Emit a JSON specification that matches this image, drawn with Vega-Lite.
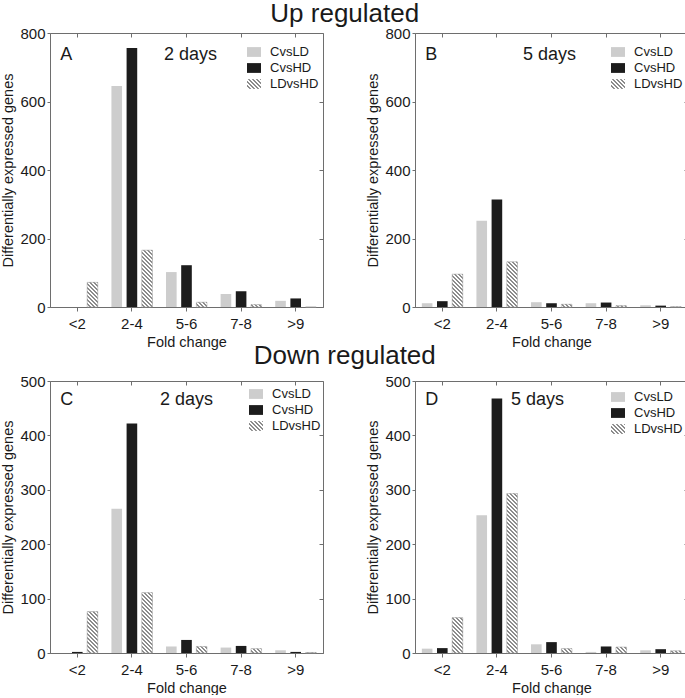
{
"$schema": "https://vega.github.io/schema/vega-lite/v6.json",
"padding": {"left": 0, "top": 0, "right": 0, "bottom": 0},
"params": [{"name": "hatch", "value": [
{"offset":0,"color":"#fff"},{"offset":0.01,"color":"#fff"},{"offset":0.01,"color":"#8c8c8c"},{"offset":0.02,"color":"#8c8c8c"},
{"offset":0.02,"color":"#fff"},{"offset":0.03,"color":"#fff"},{"offset":0.03,"color":"#8c8c8c"},{"offset":0.04,"color":"#8c8c8c"},
{"offset":0.04,"color":"#fff"},{"offset":0.05,"color":"#fff"},{"offset":0.05,"color":"#8c8c8c"},{"offset":0.06,"color":"#8c8c8c"},
{"offset":0.06,"color":"#fff"},{"offset":0.07,"color":"#fff"},{"offset":0.07,"color":"#8c8c8c"},{"offset":0.08,"color":"#8c8c8c"},
{"offset":0.08,"color":"#fff"},{"offset":0.09,"color":"#fff"},{"offset":0.09,"color":"#8c8c8c"},{"offset":0.10,"color":"#8c8c8c"},
{"offset":0.10,"color":"#fff"},{"offset":0.11,"color":"#fff"},{"offset":0.11,"color":"#8c8c8c"},{"offset":0.12,"color":"#8c8c8c"},
{"offset":0.12,"color":"#fff"},{"offset":0.13,"color":"#fff"},{"offset":0.13,"color":"#8c8c8c"},{"offset":0.14,"color":"#8c8c8c"},
{"offset":0.14,"color":"#fff"},{"offset":0.15,"color":"#fff"},{"offset":0.15,"color":"#8c8c8c"},{"offset":0.16,"color":"#8c8c8c"},
{"offset":0.16,"color":"#fff"},{"offset":0.17,"color":"#fff"},{"offset":0.17,"color":"#8c8c8c"},{"offset":0.18,"color":"#8c8c8c"},
{"offset":0.18,"color":"#fff"},{"offset":0.19,"color":"#fff"},{"offset":0.19,"color":"#8c8c8c"},{"offset":0.20,"color":"#8c8c8c"},
{"offset":0.20,"color":"#fff"},{"offset":0.21,"color":"#fff"},{"offset":0.21,"color":"#8c8c8c"},{"offset":0.22,"color":"#8c8c8c"},
{"offset":0.22,"color":"#fff"},{"offset":0.23,"color":"#fff"},{"offset":0.23,"color":"#8c8c8c"},{"offset":0.24,"color":"#8c8c8c"},
{"offset":0.24,"color":"#fff"},{"offset":0.25,"color":"#fff"},{"offset":0.25,"color":"#8c8c8c"},{"offset":0.26,"color":"#8c8c8c"},
{"offset":0.26,"color":"#fff"},{"offset":0.27,"color":"#fff"},{"offset":0.27,"color":"#8c8c8c"},{"offset":0.28,"color":"#8c8c8c"},
{"offset":0.28,"color":"#fff"},{"offset":0.29,"color":"#fff"},{"offset":0.29,"color":"#8c8c8c"},{"offset":0.30,"color":"#8c8c8c"},
{"offset":0.30,"color":"#fff"},{"offset":0.31,"color":"#fff"},{"offset":0.31,"color":"#8c8c8c"},{"offset":0.32,"color":"#8c8c8c"},
{"offset":0.32,"color":"#fff"},{"offset":0.33,"color":"#fff"},{"offset":0.33,"color":"#8c8c8c"},{"offset":0.34,"color":"#8c8c8c"},
{"offset":0.34,"color":"#fff"},{"offset":0.35,"color":"#fff"},{"offset":0.35,"color":"#8c8c8c"},{"offset":0.36,"color":"#8c8c8c"},
{"offset":0.36,"color":"#fff"},{"offset":0.37,"color":"#fff"},{"offset":0.37,"color":"#8c8c8c"},{"offset":0.38,"color":"#8c8c8c"},
{"offset":0.38,"color":"#fff"},{"offset":0.39,"color":"#fff"},{"offset":0.39,"color":"#8c8c8c"},{"offset":0.40,"color":"#8c8c8c"},
{"offset":0.40,"color":"#fff"},{"offset":0.41,"color":"#fff"},{"offset":0.41,"color":"#8c8c8c"},{"offset":0.42,"color":"#8c8c8c"},
{"offset":0.42,"color":"#fff"},{"offset":0.43,"color":"#fff"},{"offset":0.43,"color":"#8c8c8c"},{"offset":0.44,"color":"#8c8c8c"},
{"offset":0.44,"color":"#fff"},{"offset":0.45,"color":"#fff"},{"offset":0.45,"color":"#8c8c8c"},{"offset":0.46,"color":"#8c8c8c"},
{"offset":0.46,"color":"#fff"},{"offset":0.47,"color":"#fff"},{"offset":0.47,"color":"#8c8c8c"},{"offset":0.48,"color":"#8c8c8c"},
{"offset":0.48,"color":"#fff"},{"offset":0.49,"color":"#fff"},{"offset":0.49,"color":"#8c8c8c"},{"offset":0.50,"color":"#8c8c8c"},
{"offset":0.50,"color":"#fff"},{"offset":0.51,"color":"#fff"},{"offset":0.51,"color":"#8c8c8c"},{"offset":0.52,"color":"#8c8c8c"},
{"offset":0.52,"color":"#fff"},{"offset":0.53,"color":"#fff"},{"offset":0.53,"color":"#8c8c8c"},{"offset":0.54,"color":"#8c8c8c"},
{"offset":0.54,"color":"#fff"},{"offset":0.55,"color":"#fff"},{"offset":0.55,"color":"#8c8c8c"},{"offset":0.56,"color":"#8c8c8c"},
{"offset":0.56,"color":"#fff"},{"offset":0.57,"color":"#fff"},{"offset":0.57,"color":"#8c8c8c"},{"offset":0.58,"color":"#8c8c8c"},
{"offset":0.58,"color":"#fff"},{"offset":0.59,"color":"#fff"},{"offset":0.59,"color":"#8c8c8c"},{"offset":0.60,"color":"#8c8c8c"},
{"offset":0.60,"color":"#fff"},{"offset":0.61,"color":"#fff"},{"offset":0.61,"color":"#8c8c8c"},{"offset":0.62,"color":"#8c8c8c"},
{"offset":0.62,"color":"#fff"},{"offset":0.63,"color":"#fff"},{"offset":0.63,"color":"#8c8c8c"},{"offset":0.64,"color":"#8c8c8c"},
{"offset":0.64,"color":"#fff"},{"offset":0.65,"color":"#fff"},{"offset":0.65,"color":"#8c8c8c"},{"offset":0.66,"color":"#8c8c8c"},
{"offset":0.66,"color":"#fff"},{"offset":0.67,"color":"#fff"},{"offset":0.67,"color":"#8c8c8c"},{"offset":0.68,"color":"#8c8c8c"},
{"offset":0.68,"color":"#fff"},{"offset":0.69,"color":"#fff"},{"offset":0.69,"color":"#8c8c8c"},{"offset":0.70,"color":"#8c8c8c"},
{"offset":0.70,"color":"#fff"},{"offset":0.71,"color":"#fff"},{"offset":0.71,"color":"#8c8c8c"},{"offset":0.72,"color":"#8c8c8c"},
{"offset":0.72,"color":"#fff"},{"offset":0.73,"color":"#fff"},{"offset":0.73,"color":"#8c8c8c"},{"offset":0.74,"color":"#8c8c8c"},
{"offset":0.74,"color":"#fff"},{"offset":0.75,"color":"#fff"},{"offset":0.75,"color":"#8c8c8c"},{"offset":0.76,"color":"#8c8c8c"},
{"offset":0.76,"color":"#fff"},{"offset":0.77,"color":"#fff"},{"offset":0.77,"color":"#8c8c8c"},{"offset":0.78,"color":"#8c8c8c"},
{"offset":0.78,"color":"#fff"},{"offset":0.79,"color":"#fff"},{"offset":0.79,"color":"#8c8c8c"},{"offset":0.80,"color":"#8c8c8c"},
{"offset":0.80,"color":"#fff"},{"offset":0.81,"color":"#fff"},{"offset":0.81,"color":"#8c8c8c"},{"offset":0.82,"color":"#8c8c8c"},
{"offset":0.82,"color":"#fff"},{"offset":0.83,"color":"#fff"},{"offset":0.83,"color":"#8c8c8c"},{"offset":0.84,"color":"#8c8c8c"},
{"offset":0.84,"color":"#fff"},{"offset":0.85,"color":"#fff"},{"offset":0.85,"color":"#8c8c8c"},{"offset":0.86,"color":"#8c8c8c"},
{"offset":0.86,"color":"#fff"},{"offset":0.87,"color":"#fff"},{"offset":0.87,"color":"#8c8c8c"},{"offset":0.88,"color":"#8c8c8c"},
{"offset":0.88,"color":"#fff"},{"offset":0.89,"color":"#fff"},{"offset":0.89,"color":"#8c8c8c"},{"offset":0.90,"color":"#8c8c8c"},
{"offset":0.90,"color":"#fff"},{"offset":0.91,"color":"#fff"},{"offset":0.91,"color":"#8c8c8c"},{"offset":0.92,"color":"#8c8c8c"},
{"offset":0.92,"color":"#fff"},{"offset":0.93,"color":"#fff"},{"offset":0.93,"color":"#8c8c8c"},{"offset":0.94,"color":"#8c8c8c"},
{"offset":0.94,"color":"#fff"},{"offset":0.95,"color":"#fff"},{"offset":0.95,"color":"#8c8c8c"},{"offset":0.96,"color":"#8c8c8c"},
{"offset":0.96,"color":"#fff"},{"offset":0.97,"color":"#fff"},{"offset":0.97,"color":"#8c8c8c"},{"offset":0.98,"color":"#8c8c8c"},
{"offset":0.98,"color":"#fff"},{"offset":0.99,"color":"#fff"},{"offset":0.99,"color":"#8c8c8c"},{"offset":1,"color":"#8c8c8c"}
]}],
"datasets": {
"bars": [
{"panel":"A","cat":"<2","cmp":"CvsLD","n":0},{"panel":"A","cat":"<2","cmp":"CvsHD","n":0},{"panel":"A","cat":"<2","cmp":"LDvsHD","n":72},
{"panel":"A","cat":"2-4","cmp":"CvsLD","n":645},{"panel":"A","cat":"2-4","cmp":"CvsHD","n":756},{"panel":"A","cat":"2-4","cmp":"LDvsHD","n":166},
{"panel":"A","cat":"5-6","cmp":"CvsLD","n":102},{"panel":"A","cat":"5-6","cmp":"CvsHD","n":122},{"panel":"A","cat":"5-6","cmp":"LDvsHD","n":14},
{"panel":"A","cat":"7-8","cmp":"CvsLD","n":38},{"panel":"A","cat":"7-8","cmp":"CvsHD","n":46},{"panel":"A","cat":"7-8","cmp":"LDvsHD","n":7},
{"panel":"A","cat":">9","cmp":"CvsLD","n":18},{"panel":"A","cat":">9","cmp":"CvsHD","n":25},{"panel":"A","cat":">9","cmp":"LDvsHD","n":0},
{"panel":"B","cat":"<2","cmp":"CvsLD","n":11},{"panel":"B","cat":"<2","cmp":"CvsHD","n":17},{"panel":"B","cat":"<2","cmp":"LDvsHD","n":96},
{"panel":"B","cat":"2-4","cmp":"CvsLD","n":252},{"panel":"B","cat":"2-4","cmp":"CvsHD","n":314},{"panel":"B","cat":"2-4","cmp":"LDvsHD","n":132},
{"panel":"B","cat":"5-6","cmp":"CvsLD","n":14},{"panel":"B","cat":"5-6","cmp":"CvsHD","n":11},{"panel":"B","cat":"5-6","cmp":"LDvsHD","n":8},
{"panel":"B","cat":"7-8","cmp":"CvsLD","n":11},{"panel":"B","cat":"7-8","cmp":"CvsHD","n":13},{"panel":"B","cat":"7-8","cmp":"LDvsHD","n":4},
{"panel":"B","cat":">9","cmp":"CvsLD","n":5},{"panel":"B","cat":">9","cmp":"CvsHD","n":4},{"panel":"B","cat":">9","cmp":"LDvsHD","n":1},
{"panel":"C","cat":"<2","cmp":"CvsLD","n":0},{"panel":"C","cat":"<2","cmp":"CvsHD","n":2},{"panel":"C","cat":"<2","cmp":"LDvsHD","n":76},
{"panel":"C","cat":"2-4","cmp":"CvsLD","n":265},{"panel":"C","cat":"2-4","cmp":"CvsHD","n":422},{"panel":"C","cat":"2-4","cmp":"LDvsHD","n":111},
{"panel":"C","cat":"5-6","cmp":"CvsLD","n":12},{"panel":"C","cat":"5-6","cmp":"CvsHD","n":24},{"panel":"C","cat":"5-6","cmp":"LDvsHD","n":12},
{"panel":"C","cat":"7-8","cmp":"CvsLD","n":10},{"panel":"C","cat":"7-8","cmp":"CvsHD","n":13},{"panel":"C","cat":"7-8","cmp":"LDvsHD","n":8},
{"panel":"C","cat":">9","cmp":"CvsLD","n":5},{"panel":"C","cat":">9","cmp":"CvsHD","n":2},{"panel":"C","cat":">9","cmp":"LDvsHD","n":1},
{"panel":"D","cat":"<2","cmp":"CvsLD","n":8},{"panel":"D","cat":"<2","cmp":"CvsHD","n":9},{"panel":"D","cat":"<2","cmp":"LDvsHD","n":65},
{"panel":"D","cat":"2-4","cmp":"CvsLD","n":253},{"panel":"D","cat":"2-4","cmp":"CvsHD","n":468},{"panel":"D","cat":"2-4","cmp":"LDvsHD","n":293},
{"panel":"D","cat":"5-6","cmp":"CvsLD","n":16},{"panel":"D","cat":"5-6","cmp":"CvsHD","n":20},{"panel":"D","cat":"5-6","cmp":"LDvsHD","n":8},
{"panel":"D","cat":"7-8","cmp":"CvsLD","n":2},{"panel":"D","cat":"7-8","cmp":"CvsHD","n":12},{"panel":"D","cat":"7-8","cmp":"LDvsHD","n":11},
{"panel":"D","cat":">9","cmp":"CvsLD","n":5},{"panel":"D","cat":">9","cmp":"CvsHD","n":7},{"panel":"D","cat":">9","cmp":"LDvsHD","n":4}
],
"labels": [
{"panel":"A","days":"2 days"},{"panel":"B","days":"5 days"},{"panel":"C","days":"2 days"},{"panel":"D","days":"5 days"}
]
},
"vconcat": [
{
"title": {"text": "Up regulated", "offset": -1},
"spacing": 41,
"resolve": {"scale": {"fill": "independent"}, "legend": {"fill": "independent"}},
"hconcat": [
{
"width": 273, "height": 274,
"resolve": {"axis": {"x": "independent", "y": "independent"}},
"layer": [
{"data": {"name": "bars"}, "transform": [{"filter": "datum.panel=='A'"}],
 "mark": {"type": "bar"},
 "encoding": {
  "x": {"field": "cat", "type": "nominal", "scale": {"domain": ["<2","2-4","5-6","7-8",">9"], "paddingInner": 0.25, "paddingOuter": 0.125}, "axis": {"orient": "bottom", "title": "Fold change", "labelAngle": 0, "tickSize": 4, "labelPadding": 5, "bandPosition": 0.5}},
  "xOffset": {"field": "cmp", "type": "nominal", "scale": {"domain": ["CvsLD","CvsHD","LDvsHD"], "paddingInner": 0.3, "paddingOuter": 0}},
  "y": {"field": "n", "type": "quantitative", "scale": {"domain": [0, 800], "nice": false}, "axis": {"orient": "left", "values": [0,200,400,600,800], "title": "Differentially expressed genes", "tickSize": 3}},
  "fill": {"field": "cmp", "type": "nominal", "scale": {"domain": ["CvsLD","CvsHD","LDvsHD"], "range": ["#cdcdcd", "#1c1c1c", {"expr": "{gradient:'linear',x1:0,y1:1,x2:9.59,y2:-5.71,stops:hatch}"}]}, "legend": {"title": null, "orient": "none", "legendX": 197, "legendY": 12}}
 }},
{"data": {"name": "bars"}, "transform": [{"filter": "datum.panel=='A' && datum.cmp=='LDvsHD'"}],
 "mark": {"type": "bar", "stroke": "#a0a0a0", "strokeWidth": 0.5, "fill": {"expr": "{gradient:'linear',x1:0,y1:1,x2:200/(10.6*(1+pow(datum.n*0.3425/10.6,2))),y2:1-200/(10.6*(1+pow(datum.n*0.3425/10.6,2)))*datum.n*0.3425/10.6,stops:hatch}"}},
 "encoding": {
  "x": {"field": "cat", "type": "nominal", "scale": {"domain": ["<2","2-4","5-6","7-8",">9"]}, "axis": {"orient": "top", "title": null, "labels": false, "tickSize": -4, "domain": false, "bandPosition": 0.5}},
  "xOffset": {"field": "cmp", "type": "nominal", "scale": {"domain": ["CvsLD","CvsHD","LDvsHD"]}},
  "y": {"field": "n", "type": "quantitative", "scale": {"domain": [0, 800]}, "axis": {"orient": "right", "title": null, "labels": false, "values": [0,200,400,600,800], "tickSize": -4, "domain": false}}
 }},
{"data": {"name": "labels"}, "transform": [{"filter": "datum.panel=='A'"}],
 "mark": {"type": "text", "align": "left", "baseline": "alphabetic", "fontSize": 18, "dx": -17},
 "encoding": {"text": {"field": "panel"}, "x": {"datum": "<2", "type": "nominal", "scale": {"domain": ["<2","2-4","5-6","7-8",">9"]}, "axis": null}, "y": {"datum": 721, "type": "quantitative", "scale": {"domain": [0, 800]}, "axis": null}}},
{"data": {"name": "labels"}, "transform": [{"filter": "datum.panel=='A'"}],
 "mark": {"type": "text", "align": "left", "baseline": "alphabetic", "fontSize": 18, "dx": 32},
 "encoding": {"text": {"field": "days"}, "x": {"datum": "2-4", "type": "nominal", "scale": {"domain": ["<2","2-4","5-6","7-8",">9"]}, "axis": null}, "y": {"datum": 721, "type": "quantitative", "scale": {"domain": [0, 800]}, "axis": null}}}
]
},
{
"width": 273, "height": 274,
"resolve": {"axis": {"x": "independent", "y": "independent"}},
"layer": [
{"data": {"name": "bars"}, "transform": [{"filter": "datum.panel=='B'"}],
 "mark": {"type": "bar"},
 "encoding": {
  "x": {"field": "cat", "type": "nominal", "scale": {"domain": ["<2","2-4","5-6","7-8",">9"], "paddingInner": 0.25, "paddingOuter": 0.125}, "axis": {"orient": "bottom", "title": "Fold change", "labelAngle": 0, "tickSize": 4, "labelPadding": 5, "bandPosition": 0.5}},
  "xOffset": {"field": "cmp", "type": "nominal", "scale": {"domain": ["CvsLD","CvsHD","LDvsHD"], "paddingInner": 0.3, "paddingOuter": 0}},
  "y": {"field": "n", "type": "quantitative", "scale": {"domain": [0, 800], "nice": false}, "axis": {"orient": "left", "values": [0,200,400,600,800], "title": "Differentially expressed genes", "tickSize": 3}},
  "fill": {"field": "cmp", "type": "nominal", "scale": {"domain": ["CvsLD","CvsHD","LDvsHD"], "range": ["#cdcdcd", "#1c1c1c", {"expr": "{gradient:'linear',x1:0,y1:1,x2:9.59,y2:-5.71,stops:hatch}"}]}, "legend": {"title": null, "orient": "none", "legendX": 196, "legendY": 12}}
 }},
{"data": {"name": "bars"}, "transform": [{"filter": "datum.panel=='B' && datum.cmp=='LDvsHD'"}],
 "mark": {"type": "bar", "stroke": "#a0a0a0", "strokeWidth": 0.5, "fill": {"expr": "{gradient:'linear',x1:0,y1:1,x2:200/(10.6*(1+pow(datum.n*0.3425/10.6,2))),y2:1-200/(10.6*(1+pow(datum.n*0.3425/10.6,2)))*datum.n*0.3425/10.6,stops:hatch}"}},
 "encoding": {
  "x": {"field": "cat", "type": "nominal", "scale": {"domain": ["<2","2-4","5-6","7-8",">9"]}, "axis": {"orient": "top", "title": null, "labels": false, "tickSize": -4, "domain": false, "bandPosition": 0.5}},
  "xOffset": {"field": "cmp", "type": "nominal", "scale": {"domain": ["CvsLD","CvsHD","LDvsHD"]}},
  "y": {"field": "n", "type": "quantitative", "scale": {"domain": [0, 800]}, "axis": {"orient": "right", "title": null, "labels": false, "values": [0,200,400,600,800], "tickSize": -4, "domain": false}}
 }},
{"data": {"name": "labels"}, "transform": [{"filter": "datum.panel=='B'"}],
 "mark": {"type": "text", "align": "left", "baseline": "alphabetic", "fontSize": 18, "dx": -17},
 "encoding": {"text": {"field": "panel"}, "x": {"datum": "<2", "type": "nominal", "scale": {"domain": ["<2","2-4","5-6","7-8",">9"]}, "axis": null}, "y": {"datum": 721, "type": "quantitative", "scale": {"domain": [0, 800]}, "axis": null}}},
{"data": {"name": "labels"}, "transform": [{"filter": "datum.panel=='B'"}],
 "mark": {"type": "text", "align": "left", "baseline": "alphabetic", "fontSize": 18, "dx": 26},
 "encoding": {"text": {"field": "days"}, "x": {"datum": "2-4", "type": "nominal", "scale": {"domain": ["<2","2-4","5-6","7-8",">9"]}, "axis": null}, "y": {"datum": 721, "type": "quantitative", "scale": {"domain": [0, 800]}, "axis": null}}}
]
}
]
},
{
"title": {"text": "Down regulated", "offset": 5},
"spacing": 41,
"resolve": {"scale": {"fill": "independent"}, "legend": {"fill": "independent"}},
"hconcat": [
{
"width": 273, "height": 272,
"resolve": {"axis": {"x": "independent", "y": "independent"}},
"layer": [
{"data": {"name": "bars"}, "transform": [{"filter": "datum.panel=='C'"}],
 "mark": {"type": "bar"},
 "encoding": {
  "x": {"field": "cat", "type": "nominal", "scale": {"domain": ["<2","2-4","5-6","7-8",">9"], "paddingInner": 0.25, "paddingOuter": 0.125}, "axis": {"orient": "bottom", "title": "Fold change", "labelAngle": 0, "tickSize": 4, "labelPadding": 5, "bandPosition": 0.5}},
  "xOffset": {"field": "cmp", "type": "nominal", "scale": {"domain": ["CvsLD","CvsHD","LDvsHD"], "paddingInner": 0.3, "paddingOuter": 0}},
  "y": {"field": "n", "type": "quantitative", "scale": {"domain": [0, 500], "nice": false}, "axis": {"orient": "left", "values": [0,100,200,300,400,500], "title": "Differentially expressed genes", "tickSize": 3}},
  "fill": {"field": "cmp", "type": "nominal", "scale": {"domain": ["CvsLD","CvsHD","LDvsHD"], "range": ["#cdcdcd", "#1c1c1c", {"expr": "{gradient:'linear',x1:0,y1:1,x2:9.59,y2:-5.71,stops:hatch}"}]}, "legend": {"title": null, "orient": "none", "legendX": 199, "legendY": 6}}
 }},
{"data": {"name": "bars"}, "transform": [{"filter": "datum.panel=='C' && datum.cmp=='LDvsHD'"}],
 "mark": {"type": "bar", "stroke": "#a0a0a0", "strokeWidth": 0.5, "fill": {"expr": "{gradient:'linear',x1:0,y1:1,x2:200/(10.6*(1+pow(datum.n*0.544/10.6,2))),y2:1-200/(10.6*(1+pow(datum.n*0.544/10.6,2)))*datum.n*0.544/10.6,stops:hatch}"}},
 "encoding": {
  "x": {"field": "cat", "type": "nominal", "scale": {"domain": ["<2","2-4","5-6","7-8",">9"]}, "axis": {"orient": "top", "title": null, "labels": false, "tickSize": -4, "domain": false, "bandPosition": 0.5}},
  "xOffset": {"field": "cmp", "type": "nominal", "scale": {"domain": ["CvsLD","CvsHD","LDvsHD"]}},
  "y": {"field": "n", "type": "quantitative", "scale": {"domain": [0, 500]}, "axis": {"orient": "right", "title": null, "labels": false, "values": [0,100,200,300,400,500], "tickSize": -4, "domain": false}}
 }},
{"data": {"name": "labels"}, "transform": [{"filter": "datum.panel=='C'"}],
 "mark": {"type": "text", "align": "left", "baseline": "alphabetic", "fontSize": 18, "dx": -17},
 "encoding": {"text": {"field": "panel"}, "x": {"datum": "<2", "type": "nominal", "scale": {"domain": ["<2","2-4","5-6","7-8",">9"]}, "axis": null}, "y": {"datum": 456, "type": "quantitative", "scale": {"domain": [0, 500]}, "axis": null}}},
{"data": {"name": "labels"}, "transform": [{"filter": "datum.panel=='C'"}],
 "mark": {"type": "text", "align": "left", "baseline": "alphabetic", "fontSize": 18, "dx": 28},
 "encoding": {"text": {"field": "days"}, "x": {"datum": "2-4", "type": "nominal", "scale": {"domain": ["<2","2-4","5-6","7-8",">9"]}, "axis": null}, "y": {"datum": 456, "type": "quantitative", "scale": {"domain": [0, 500]}, "axis": null}}}
]
},
{
"width": 273, "height": 272,
"resolve": {"axis": {"x": "independent", "y": "independent"}},
"layer": [
{"data": {"name": "bars"}, "transform": [{"filter": "datum.panel=='D'"}],
 "mark": {"type": "bar"},
 "encoding": {
  "x": {"field": "cat", "type": "nominal", "scale": {"domain": ["<2","2-4","5-6","7-8",">9"], "paddingInner": 0.25, "paddingOuter": 0.125}, "axis": {"orient": "bottom", "title": "Fold change", "labelAngle": 0, "tickSize": 4, "labelPadding": 5, "bandPosition": 0.5}},
  "xOffset": {"field": "cmp", "type": "nominal", "scale": {"domain": ["CvsLD","CvsHD","LDvsHD"], "paddingInner": 0.3, "paddingOuter": 0}},
  "y": {"field": "n", "type": "quantitative", "scale": {"domain": [0, 500], "nice": false}, "axis": {"orient": "left", "values": [0,100,200,300,400,500], "title": "Differentially expressed genes", "tickSize": 3}},
  "fill": {"field": "cmp", "type": "nominal", "scale": {"domain": ["CvsLD","CvsHD","LDvsHD"], "range": ["#cdcdcd", "#1c1c1c", {"expr": "{gradient:'linear',x1:0,y1:1,x2:9.59,y2:-5.71,stops:hatch}"}]}, "legend": {"title": null, "orient": "none", "legendX": 196, "legendY": 9}}
 }},
{"data": {"name": "bars"}, "transform": [{"filter": "datum.panel=='D' && datum.cmp=='LDvsHD'"}],
 "mark": {"type": "bar", "stroke": "#a0a0a0", "strokeWidth": 0.5, "fill": {"expr": "{gradient:'linear',x1:0,y1:1,x2:200/(10.6*(1+pow(datum.n*0.544/10.6,2))),y2:1-200/(10.6*(1+pow(datum.n*0.544/10.6,2)))*datum.n*0.544/10.6,stops:hatch}"}},
 "encoding": {
  "x": {"field": "cat", "type": "nominal", "scale": {"domain": ["<2","2-4","5-6","7-8",">9"]}, "axis": {"orient": "top", "title": null, "labels": false, "tickSize": -4, "domain": false, "bandPosition": 0.5}},
  "xOffset": {"field": "cmp", "type": "nominal", "scale": {"domain": ["CvsLD","CvsHD","LDvsHD"]}},
  "y": {"field": "n", "type": "quantitative", "scale": {"domain": [0, 500]}, "axis": {"orient": "right", "title": null, "labels": false, "values": [0,100,200,300,400,500], "tickSize": -4, "domain": false}}
 }},
{"data": {"name": "labels"}, "transform": [{"filter": "datum.panel=='D'"}],
 "mark": {"type": "text", "align": "left", "baseline": "alphabetic", "fontSize": 18, "dx": -17},
 "encoding": {"text": {"field": "panel"}, "x": {"datum": "<2", "type": "nominal", "scale": {"domain": ["<2","2-4","5-6","7-8",">9"]}, "axis": null}, "y": {"datum": 456, "type": "quantitative", "scale": {"domain": [0, 500]}, "axis": null}}},
{"data": {"name": "labels"}, "transform": [{"filter": "datum.panel=='D'"}],
 "mark": {"type": "text", "align": "left", "baseline": "alphabetic", "fontSize": 18, "dx": 14},
 "encoding": {"text": {"field": "days"}, "x": {"datum": "2-4", "type": "nominal", "scale": {"domain": ["<2","2-4","5-6","7-8",">9"]}, "axis": null}, "y": {"datum": 456, "type": "quantitative", "scale": {"domain": [0, 500]}, "axis": null}}}
]
}
]
}
],
"spacing": -7,
"resolve": {"scale": {"fill": "independent"}, "legend": {"fill": "independent"}},
"config": {
 "font": "Liberation Sans",
 "view": {"stroke": "#6e6e6e", "strokeWidth": 1},
 "axis": {"grid": false, "domainColor": "#6e6e6e", "tickColor": "#6e6e6e", "labelColor": "#1a1a1a", "titleColor": "#1a1a1a", "labelFontSize": 15, "titleFontSize": 14.5, "titleFontWeight": "normal", "labelFont": "Liberation Sans", "titleFont": "Liberation Sans"},
 "legend": {"labelFontSize": 13, "labelColor": "#1a1a1a", "labelFont": "Liberation Sans", "symbolType": "M-1,-0.7H1V0.7H-1Z", "symbolSize": 196, "padding": 0, "rowPadding": 2, "labelOffset": 9, "symbolStrokeWidth": 0, "symbolOpacity": 1},
 "title": {"fontSize": 26, "fontWeight": "normal", "color": "#1a1a1a", "anchor": "middle", "font": "Liberation Sans"},
 "text": {"color": "#1a1a1a", "font": "Liberation Sans"}
}
}
